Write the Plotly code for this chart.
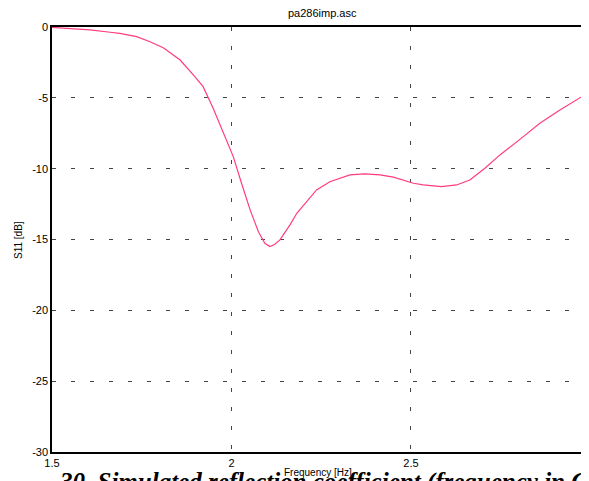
import plotly.graph_objects as go

freq = [1.5, 1.55, 1.606, 1.662, 1.689, 1.736, 1.773, 1.81, 1.857, 1.898, 1.921,
        1.949, 1.977, 2.005, 2.028, 2.052, 2.075, 2.093, 2.107, 2.12, 2.135, 2.163,
        2.182, 2.209, 2.237, 2.274, 2.33, 2.37, 2.414, 2.451, 2.507, 2.534, 2.585,
        2.627, 2.664, 2.706, 2.748, 2.813, 2.859, 2.915, 2.971, 2.996]
s11 = [-0.03, -0.09, -0.2, -0.37, -0.45, -0.68, -1.04, -1.46, -2.33, -3.5, -4.21,
       -5.74, -7.39, -9.15, -11.03, -12.91, -14.45, -15.27, -15.5, -15.35, -15.03, -13.97,
       -13.15, -12.33, -11.5, -10.92, -10.44, -10.37, -10.44, -10.6, -11.03, -11.15, -11.27,
       -11.15, -10.8, -9.97, -9.03, -7.74, -6.8, -5.86, -5.03, -4.6]

x_ticks = [1.5, 2, 2.5]
x_tick_text = ["1.5", "2", "2.5"]
y_ticks = [0, -5, -10, -15, -20, -25, -30]
y_tick_text = ["0", "-5", "-10", "-15", "-20", "-25", "-30"]

# page body has an 8px margin; plot area should sit at x 52..589, y 27..452 on screen
OFF = 8
PL, PR, PT, PB = 52, 589, 27, 452
W, H = 589, 481
PW, PH = PR - PL, PB - PT


def px(x):
    return (x - PL) / PW


def py(y):
    return (PB - y) / PH


fig = go.Figure()
fig.add_trace(go.Scatter(x=freq, y=s11, mode="lines",
                         line=dict(color="#ff3c80", width=1.2),
                         hoverinfo="skip", showlegend=False))

sans = "Liberation Sans, Arial, sans-serif"
axfont = dict(family=sans, size=11, color="#000")
fig.update_layout(
    width=W, height=H,
    margin=dict(l=PL - OFF, r=W + OFF - PR, t=PT - OFF, b=H + OFF - PB, autoexpand=False),
    paper_bgcolor="white", plot_bgcolor="white",
    xaxis=dict(range=[1.5, 2.996], tickvals=x_ticks, ticktext=x_tick_text,
               showline=True, linecolor="#000", linewidth=1.5, mirror=True,
               showgrid=True, gridcolor="#444", gridwidth=1.2, griddash="4px,15px",
               zeroline=False, ticks="", tickfont=axfont),
    yaxis=dict(range=[-30, 0], tickvals=y_ticks, ticktext=y_tick_text,
               showline=True, linecolor="#000", linewidth=1.5, mirror=False,
               showgrid=True, gridcolor="#444", gridwidth=1.2, griddash="4px,15px",
               zeroline=False, ticks="", tickfont=axfont),
    annotations=[
        dict(text="pa286imp.asc", xref="paper", yref="paper",
             x=px(322), y=py(13), xanchor="center", yanchor="middle",
             showarrow=False, font=dict(family=sans, size=11, color="#000")),
        dict(text="S11 [dB]", textangle=-90, xref="paper", yref="paper",
             x=px(18), y=py(240), xanchor="center", yanchor="middle",
             showarrow=False, font=dict(family=sans, size=10, color="#000")),
        dict(text="<b><i>30. Simulated reflection coefficient (frequency in GHz)</i></b>",
             xref="paper", yref="paper",
             x=px(57), y=py(482), xanchor="left", yanchor="middle",
             showarrow=False, font=dict(family="Liberation Serif, Times New Roman, serif", size=25, color="#000")),
        dict(text="Frequency [Hz]", xref="paper", yref="paper",
             x=px(318), y=py(472), xanchor="center", yanchor="middle",
             showarrow=False, font=dict(family=sans, size=10, color="#000")),
    ],
)

fig.write_html("out.html")
